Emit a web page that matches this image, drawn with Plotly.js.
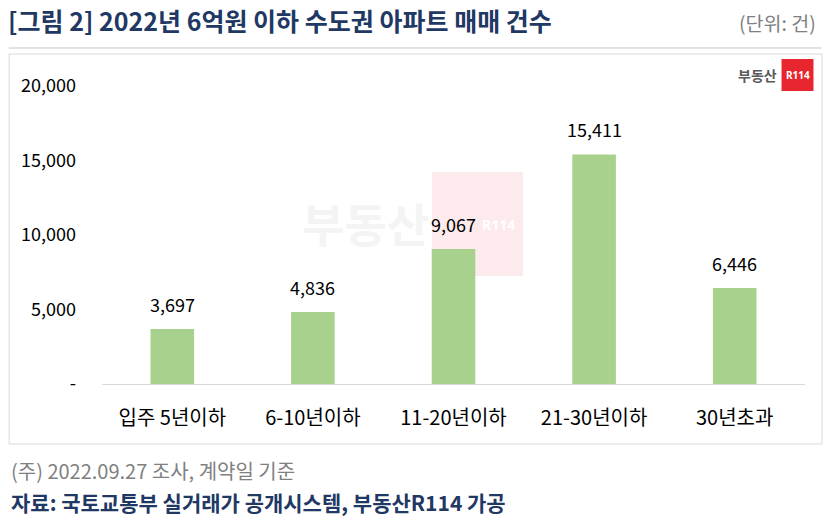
<!DOCTYPE html>
<html>
<head>
<meta charset="utf-8">
<script src="https://cdn.plot.ly/plotly-3.0.1.min.js"></script>
<style>html,body{margin:0;padding:0;background:#fff;}#chart{width:830px;height:530px;}</style>
</head>
<body>
<div id="chart"></div>
<script>
const categories = ["입주 5년이하", "6-10년이하", "11-20년이하", "21-30년이하", "30년초과"];
const values = [3697, 4836, 9067, 15411, 6446];
const yTickVals = [0, 5000, 10000, 15000, 20000];
const yTickText = ["-", "5,000", "10,000", "15,000", "20,000"];
const titleText = "[그림 2] 2022년 6억원 이하 수도권 아파트 매매 건수";
const unitText = "(단위: 건)";
const noteText = "(주) 2022.09.27 조사, 계약일 기준";
const sourceText = "자료: 국토교통부 실거래가 공개시스템, 부동산R114 가공";

const W = 830, H = 530;
const L = 101.5, R = 805.5, T = 86, B = 384;
const px = x => (x - L) / (R - L);
const py = y => (B - y) / (B - T);
const font = "Noto Sans CJK KR, Noto Sans, sans-serif";
const navy = "#1f3864";

const fmt = v => v.toLocaleString("en-US");

const annotations = [
  // watermark (drawn first, beneath everything else)
  {xref: "paper", yref: "paper", x: px(431), y: py(222), xanchor: "right", yanchor: "middle",
   text: "<b>부동산</b>", showarrow: false, font: {family: font, size: 46, color: "#f4f4f4"}},
  {xref: "paper", yref: "paper", x: px(480), y: py(224), xanchor: "left", yanchor: "middle",
   text: "<b>R114</b>", showarrow: false, font: {family: "Noto Sans, sans-serif", size: 14, color: "#ffffff"}},
  // logo top right
  {xref: "paper", yref: "paper", x: px(779), y: py(75), xanchor: "right", yanchor: "middle",
   text: "<b>부동산</b>", showarrow: false, font: {family: font, size: 14, color: "#595959"}},
  {xref: "paper", yref: "paper", x: px(798), y: py(75), xanchor: "center", yanchor: "middle",
   text: "<b>R114</b>", showarrow: false, font: {family: "Noto Sans, sans-serif", size: 10, color: "#ffffff"}},
  // header / footer texts
  {xref: "paper", yref: "paper", x: px(819), y: py(22), xanchor: "right", yanchor: "middle",
   text: unitText, showarrow: false, font: {family: font, size: 19.5, color: "#808080"}},
  {xref: "paper", yref: "paper", x: px(8), y: py(470), xanchor: "left", yanchor: "middle",
   text: noteText, showarrow: false, font: {family: font, size: 20, color: "#808080"}},
  {xref: "paper", yref: "paper", x: px(8), y: py(502), xanchor: "left", yanchor: "middle",
   text: "<b>" + sourceText + "</b>", showarrow: false, font: {family: font, size: 21, color: navy}}
];

values.forEach((v, i) => annotations.push({
  x: categories[i], y: v, xref: "x", yref: "y",
  text: fmt(v), showarrow: false, yanchor: "bottom", yshift: 10,
  font: {family: font, size: 18, color: "#000"}
}));

const shapes = [
  {type: "line", xref: "paper", yref: "paper", x0: px(8), x1: px(822), y0: py(48), y1: py(48),
   line: {color: "#d9d9d9", width: 1.5}, layer: "below"},
  {type: "rect", xref: "paper", yref: "paper", x0: px(8.5), x1: px(822.5), y0: py(54), y1: py(444),
   line: {color: "#d9d9d9", width: 1}, layer: "below"},
  {type: "rect", xref: "paper", yref: "paper", x0: px(432), x1: px(523), y0: py(172), y1: py(276),
   line: {width: 0}, fillcolor: "#fdeaec", layer: "below"},
  {type: "rect", xref: "paper", yref: "paper", x0: px(782), x1: px(814), y0: py(59), y1: py(91),
   line: {width: 0}, fillcolor: "#e8262f", layer: "above"}
];

const trace = {
  type: "bar", x: categories, y: values,
  marker: {color: "#a9d18e"}, hoverinfo: "skip"
};

const layout = {
  width: W, height: H,
  margin: {l: L, r: W - R, t: T, b: H - B, pad: 0},
  paper_bgcolor: "#fff", plot_bgcolor: "rgba(0,0,0,0)",
  showlegend: false, bargap: 0.69,
  title: {text: "<b>" + titleText + "</b>", x: 8 / W, xanchor: "left", y: 1 - 22 / H, yanchor: "middle",
          font: {family: font, size: 25, color: navy}},
  xaxis: {type: "category", showgrid: false, zeroline: false, showline: true, linecolor: "#d9d9d9", linewidth: 1,
          ticks: "", ticklabelstandoff: 16, tickfont: {family: font, size: 20, color: "#000"}, fixedrange: true},
  yaxis: {range: [0, 20000], showgrid: false, zeroline: false, showline: false, ticks: "",
          tickvals: yTickVals, ticktext: yTickText, ticklabelstandoff: 25,
          tickfont: {family: font, size: 18, color: "#000"}, fixedrange: true},
  annotations: annotations, shapes: shapes
};

Plotly.newPlot("chart", [trace], layout, {displayModeBar: false, staticPlot: true});
</script>
</body>
</html>
